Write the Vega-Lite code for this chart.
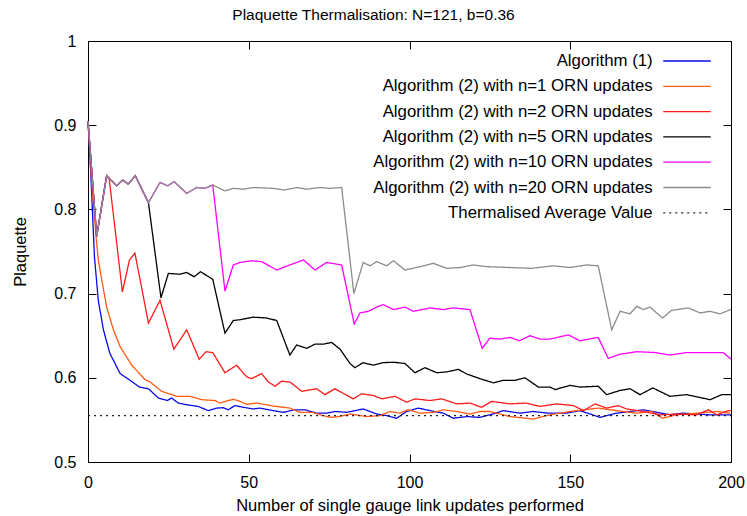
{
  "$schema": "https://vega.github.io/schema/vega-lite/v6.json",
  "width": 643,
  "height": 421,
  "autosize": {"type": "none"},
  "padding": {"left": 88, "top": 41, "right": 16, "bottom": 54},
  "title": {"text": "Plaquette Thermalisation: N=121, b=0.36", "fontSize": 15.5, "fontWeight": "normal", "font": "Liberation Sans", "color": "black", "offset": 10, "dx": -36},
  "config": {
    "view": {"stroke": "black", "strokeWidth": 1},
    "font": "Liberation Sans",
    "axis": {"domain": false, "grid": false, "labelFlush": false, "tickColor": "black", "tickSize": -8, "tickWidth": 1, "labelFont": "Liberation Sans", "labelFontSize": 16, "labelColor": "black", "titleFont": "Liberation Sans", "titleFontSize": 16.5, "titleFontWeight": "normal", "titleColor": "black"},
    "legend": {"orient": "none", "legendX": 588.5, "legendY": 9.5, "padding": 0, "labelFont": "Liberation Sans", "labelFontSize": 16.8, "labelColor": "black", "symbolType": "M-2.5,0H2.5", "symbolSize": 361, "symbolStrokeWidth": 1.3, "labelAlign": "right", "labelOffset": -44.8, "symbolOffset": 0, "rowPadding": 5.3, "labelLimit": 500}
  },
  "data": {"values": [
    {"s":"Algorithm (1)","x":0,"y":0.905},{"s":"Algorithm (1)","x":0.9,"y":0.84},{"s":"Algorithm (1)","x":2,"y":0.744},{"s":"Algorithm (1)","x":3.2,"y":0.692},{"s":"Algorithm (1)","x":4.8,"y":0.657},{"s":"Algorithm (1)","x":6.8,"y":0.629},{"s":"Algorithm (1)","x":10,"y":0.605},{"s":"Algorithm (1)","x":13.1,"y":0.597},{"s":"Algorithm (1)","x":16,"y":0.589},{"s":"Algorithm (1)","x":18.8,"y":0.587},{"s":"Algorithm (1)","x":21.9,"y":0.576},{"s":"Algorithm (1)","x":24.7,"y":0.573},{"s":"Algorithm (1)","x":26,"y":0.576},{"s":"Algorithm (1)","x":28.1,"y":0.570},{"s":"Algorithm (1)","x":30.7,"y":0.568},{"s":"Algorithm (1)","x":34.3,"y":0.566},{"s":"Algorithm (1)","x":37.4,"y":0.561},{"s":"Algorithm (1)","x":40,"y":0.564},{"s":"Algorithm (1)","x":42.1,"y":0.5645},{"s":"Algorithm (1)","x":43.6,"y":0.562},{"s":"Algorithm (1)","x":45.7,"y":0.567},{"s":"Algorithm (1)","x":48.3,"y":0.565},{"s":"Algorithm (1)","x":51.4,"y":0.563},{"s":"Algorithm (1)","x":53.5,"y":0.564},{"s":"Algorithm (1)","x":57.6,"y":0.561},{"s":"Algorithm (1)","x":60.8,"y":0.559},{"s":"Algorithm (1)","x":63.9,"y":0.562},{"s":"Algorithm (1)","x":67.5,"y":0.562},{"s":"Algorithm (1)","x":71.1,"y":0.558},{"s":"Algorithm (1)","x":74.2,"y":0.558},{"s":"Algorithm (1)","x":76.8,"y":0.560},{"s":"Algorithm (1)","x":80.5,"y":0.559},{"s":"Algorithm (1)","x":85.6,"y":0.563},{"s":"Algorithm (1)","x":89.8,"y":0.557},{"s":"Algorithm (1)","x":93,"y":0.555},{"s":"Algorithm (1)","x":96,"y":0.552},{"s":"Algorithm (1)","x":99.1,"y":0.560},{"s":"Algorithm (1)","x":102.8,"y":0.564},{"s":"Algorithm (1)","x":106.4,"y":0.561},{"s":"Algorithm (1)","x":110.5,"y":0.558},{"s":"Algorithm (1)","x":113.6,"y":0.552},{"s":"Algorithm (1)","x":117.8,"y":0.554},{"s":"Algorithm (1)","x":121.9,"y":0.553},{"s":"Algorithm (1)","x":125,"y":0.556},{"s":"Algorithm (1)","x":129.2,"y":0.561},{"s":"Algorithm (1)","x":134.4,"y":0.558},{"s":"Algorithm (1)","x":138.5,"y":0.560},{"s":"Algorithm (1)","x":143,"y":0.558},{"s":"Algorithm (1)","x":148.8,"y":0.558},{"s":"Algorithm (1)","x":153,"y":0.561},{"s":"Algorithm (1)","x":159.3,"y":0.553},{"s":"Algorithm (1)","x":164.4,"y":0.558},{"s":"Algorithm (1)","x":172.7,"y":0.562},{"s":"Algorithm (1)","x":176.9,"y":0.559},{"s":"Algorithm (1)","x":181,"y":0.556},{"s":"Algorithm (1)","x":185.2,"y":0.558},{"s":"Algorithm (1)","x":193.5,"y":0.556},{"s":"Algorithm (1)","x":200,"y":0.556},

    {"s":"Algorithm (2) with n=1 ORN updates","x":0,"y":0.905},{"s":"Algorithm (2) with n=1 ORN updates","x":1.2,"y":0.83},{"s":"Algorithm (2) with n=1 ORN updates","x":2.5,"y":0.768},{"s":"Algorithm (2) with n=1 ORN updates","x":3.2,"y":0.74},{"s":"Algorithm (2) with n=1 ORN updates","x":4.3,"y":0.716},{"s":"Algorithm (2) with n=1 ORN updates","x":5.8,"y":0.684},{"s":"Algorithm (2) with n=1 ORN updates","x":7.9,"y":0.657},{"s":"Algorithm (2) with n=1 ORN updates","x":10,"y":0.637},{"s":"Algorithm (2) with n=1 ORN updates","x":13.6,"y":0.615},{"s":"Algorithm (2) with n=1 ORN updates","x":17.7,"y":0.598},{"s":"Algorithm (2) with n=1 ORN updates","x":19.3,"y":0.595},{"s":"Algorithm (2) with n=1 ORN updates","x":22.9,"y":0.584},{"s":"Algorithm (2) with n=1 ORN updates","x":27.6,"y":0.578},{"s":"Algorithm (2) with n=1 ORN updates","x":31.7,"y":0.578},{"s":"Algorithm (2) with n=1 ORN updates","x":35.4,"y":0.574},{"s":"Algorithm (2) with n=1 ORN updates","x":39.5,"y":0.573},{"s":"Algorithm (2) with n=1 ORN updates","x":41.1,"y":0.570},{"s":"Algorithm (2) with n=1 ORN updates","x":43.1,"y":0.5725},{"s":"Algorithm (2) with n=1 ORN updates","x":45.2,"y":0.5745},{"s":"Algorithm (2) with n=1 ORN updates","x":47.3,"y":0.572},{"s":"Algorithm (2) with n=1 ORN updates","x":49.4,"y":0.5685},{"s":"Algorithm (2) with n=1 ORN updates","x":52.5,"y":0.570},{"s":"Algorithm (2) with n=1 ORN updates","x":57.6,"y":0.5665},{"s":"Algorithm (2) with n=1 ORN updates","x":62.8,"y":0.564},{"s":"Algorithm (2) with n=1 ORN updates","x":65.9,"y":0.559},{"s":"Algorithm (2) with n=1 ORN updates","x":69.6,"y":0.559},{"s":"Algorithm (2) with n=1 ORN updates","x":75.3,"y":0.553},{"s":"Algorithm (2) with n=1 ORN updates","x":78.4,"y":0.554},{"s":"Algorithm (2) with n=1 ORN updates","x":81.5,"y":0.557},{"s":"Algorithm (2) with n=1 ORN updates","x":86.7,"y":0.554},{"s":"Algorithm (2) with n=1 ORN updates","x":90.8,"y":0.555},{"s":"Algorithm (2) with n=1 ORN updates","x":93.9,"y":0.560},{"s":"Algorithm (2) with n=1 ORN updates","x":97,"y":0.558},{"s":"Algorithm (2) with n=1 ORN updates","x":99.6,"y":0.562},{"s":"Algorithm (2) with n=1 ORN updates","x":103.3,"y":0.558},{"s":"Algorithm (2) with n=1 ORN updates","x":107.4,"y":0.559},{"s":"Algorithm (2) with n=1 ORN updates","x":110.5,"y":0.562},{"s":"Algorithm (2) with n=1 ORN updates","x":114.7,"y":0.560},{"s":"Algorithm (2) with n=1 ORN updates","x":118.8,"y":0.557},{"s":"Algorithm (2) with n=1 ORN updates","x":121.9,"y":0.560},{"s":"Algorithm (2) with n=1 ORN updates","x":125,"y":0.560},{"s":"Algorithm (2) with n=1 ORN updates","x":131.3,"y":0.554},{"s":"Algorithm (2) with n=1 ORN updates","x":138.5,"y":0.551},{"s":"Algorithm (2) with n=1 ORN updates","x":143.7,"y":0.556},{"s":"Algorithm (2) with n=1 ORN updates","x":149.9,"y":0.560},{"s":"Algorithm (2) with n=1 ORN updates","x":158.7,"y":0.564},{"s":"Algorithm (2) with n=1 ORN updates","x":162.4,"y":0.562},{"s":"Algorithm (2) with n=1 ORN updates","x":170.7,"y":0.558},{"s":"Algorithm (2) with n=1 ORN updates","x":175.3,"y":0.560},{"s":"Algorithm (2) with n=1 ORN updates","x":178.7,"y":0.552},{"s":"Algorithm (2) with n=1 ORN updates","x":183,"y":0.556},{"s":"Algorithm (2) with n=1 ORN updates","x":189.3,"y":0.558},{"s":"Algorithm (2) with n=1 ORN updates","x":195.6,"y":0.560},{"s":"Algorithm (2) with n=1 ORN updates","x":199.7,"y":0.558},

    {"s":"Algorithm (2) with n=2 ORN updates","x":0,"y":0.905},{"s":"Algorithm (2) with n=2 ORN updates","x":2.7,"y":0.768},{"s":"Algorithm (2) with n=2 ORN updates","x":5.8,"y":0.840},{"s":"Algorithm (2) with n=2 ORN updates","x":6.6,"y":0.836},{"s":"Algorithm (2) with n=2 ORN updates","x":10.7,"y":0.702},{"s":"Algorithm (2) with n=2 ORN updates","x":12.9,"y":0.740},{"s":"Algorithm (2) with n=2 ORN updates","x":14.6,"y":0.748},{"s":"Algorithm (2) with n=2 ORN updates","x":18.8,"y":0.665},{"s":"Algorithm (2) with n=2 ORN updates","x":22.4,"y":0.692},{"s":"Algorithm (2) with n=2 ORN updates","x":26.7,"y":0.634},{"s":"Algorithm (2) with n=2 ORN updates","x":30.7,"y":0.657},{"s":"Algorithm (2) with n=2 ORN updates","x":34.6,"y":0.622},{"s":"Algorithm (2) with n=2 ORN updates","x":36.7,"y":0.631},{"s":"Algorithm (2) with n=2 ORN updates","x":38.8,"y":0.630},{"s":"Algorithm (2) with n=2 ORN updates","x":42.6,"y":0.606},{"s":"Algorithm (2) with n=2 ORN updates","x":46.2,"y":0.615},{"s":"Algorithm (2) with n=2 ORN updates","x":49.4,"y":0.601},{"s":"Algorithm (2) with n=2 ORN updates","x":50.9,"y":0.599},{"s":"Algorithm (2) with n=2 ORN updates","x":54,"y":0.605},{"s":"Algorithm (2) with n=2 ORN updates","x":56.1,"y":0.595},{"s":"Algorithm (2) with n=2 ORN updates","x":58.2,"y":0.590},{"s":"Algorithm (2) with n=2 ORN updates","x":60.2,"y":0.596},{"s":"Algorithm (2) with n=2 ORN updates","x":62.8,"y":0.595},{"s":"Algorithm (2) with n=2 ORN updates","x":66.5,"y":0.584},{"s":"Algorithm (2) with n=2 ORN updates","x":69.6,"y":0.586},{"s":"Algorithm (2) with n=2 ORN updates","x":71.1,"y":0.587},{"s":"Algorithm (2) with n=2 ORN updates","x":73.7,"y":0.580},{"s":"Algorithm (2) with n=2 ORN updates","x":76.8,"y":0.587},{"s":"Algorithm (2) with n=2 ORN updates","x":82.5,"y":0.575},{"s":"Algorithm (2) with n=2 ORN updates","x":85.1,"y":0.581},{"s":"Algorithm (2) with n=2 ORN updates","x":88.7,"y":0.579},{"s":"Algorithm (2) with n=2 ORN updates","x":91.4,"y":0.575},{"s":"Algorithm (2) with n=2 ORN updates","x":95.5,"y":0.578},{"s":"Algorithm (2) with n=2 ORN updates","x":99.1,"y":0.571},{"s":"Algorithm (2) with n=2 ORN updates","x":101.7,"y":0.575},{"s":"Algorithm (2) with n=2 ORN updates","x":106.4,"y":0.573},{"s":"Algorithm (2) with n=2 ORN updates","x":110,"y":0.575},{"s":"Algorithm (2) with n=2 ORN updates","x":114.7,"y":0.569},{"s":"Algorithm (2) with n=2 ORN updates","x":118.8,"y":0.570},{"s":"Algorithm (2) with n=2 ORN updates","x":122.4,"y":0.565},{"s":"Algorithm (2) with n=2 ORN updates","x":125.6,"y":0.572},{"s":"Algorithm (2) with n=2 ORN updates","x":131.3,"y":0.569},{"s":"Algorithm (2) with n=2 ORN updates","x":136.4,"y":0.570},{"s":"Algorithm (2) with n=2 ORN updates","x":140.6,"y":0.566},{"s":"Algorithm (2) with n=2 ORN updates","x":145.8,"y":0.569},{"s":"Algorithm (2) with n=2 ORN updates","x":151,"y":0.567},{"s":"Algorithm (2) with n=2 ORN updates","x":154.1,"y":0.561},{"s":"Algorithm (2) with n=2 ORN updates","x":157.7,"y":0.569},{"s":"Algorithm (2) with n=2 ORN updates","x":161.3,"y":0.564},{"s":"Algorithm (2) with n=2 ORN updates","x":164.9,"y":0.567},{"s":"Algorithm (2) with n=2 ORN updates","x":167.5,"y":0.563},{"s":"Algorithm (2) with n=2 ORN updates","x":172.7,"y":0.560},{"s":"Algorithm (2) with n=2 ORN updates","x":177.9,"y":0.556},{"s":"Algorithm (2) with n=2 ORN updates","x":183,"y":0.557},{"s":"Algorithm (2) with n=2 ORN updates","x":189.3,"y":0.556},{"s":"Algorithm (2) with n=2 ORN updates","x":193,"y":0.562},{"s":"Algorithm (2) with n=2 ORN updates","x":195.6,"y":0.556},{"s":"Algorithm (2) with n=2 ORN updates","x":199.2,"y":0.561},{"s":"Algorithm (2) with n=2 ORN updates","x":200,"y":0.561},

    {"s":"Algorithm (2) with n=5 ORN updates","x":0,"y":0.905},{"s":"Algorithm (2) with n=5 ORN updates","x":2.7,"y":0.768},{"s":"Algorithm (2) with n=5 ORN updates","x":5.8,"y":0.840},{"s":"Algorithm (2) with n=5 ORN updates","x":8.9,"y":0.828},{"s":"Algorithm (2) with n=5 ORN updates","x":10.8,"y":0.835},{"s":"Algorithm (2) with n=5 ORN updates","x":12.5,"y":0.830},{"s":"Algorithm (2) with n=5 ORN updates","x":14.7,"y":0.840},{"s":"Algorithm (2) with n=5 ORN updates","x":18.8,"y":0.808},{"s":"Algorithm (2) with n=5 ORN updates","x":22.7,"y":0.695},{"s":"Algorithm (2) with n=5 ORN updates","x":25,"y":0.724},{"s":"Algorithm (2) with n=5 ORN updates","x":28.6,"y":0.723},{"s":"Algorithm (2) with n=5 ORN updates","x":30.7,"y":0.725},{"s":"Algorithm (2) with n=5 ORN updates","x":33,"y":0.720},{"s":"Algorithm (2) with n=5 ORN updates","x":35,"y":0.726},{"s":"Algorithm (2) with n=5 ORN updates","x":38.8,"y":0.717},{"s":"Algorithm (2) with n=5 ORN updates","x":42.6,"y":0.653},{"s":"Algorithm (2) with n=5 ORN updates","x":45.2,"y":0.668},{"s":"Algorithm (2) with n=5 ORN updates","x":47.3,"y":0.669},{"s":"Algorithm (2) with n=5 ORN updates","x":51.4,"y":0.672},{"s":"Algorithm (2) with n=5 ORN updates","x":55.6,"y":0.671},{"s":"Algorithm (2) with n=5 ORN updates","x":58.7,"y":0.668},{"s":"Algorithm (2) with n=5 ORN updates","x":62.8,"y":0.627},{"s":"Algorithm (2) with n=5 ORN updates","x":64.9,"y":0.639},{"s":"Algorithm (2) with n=5 ORN updates","x":68,"y":0.635},{"s":"Algorithm (2) with n=5 ORN updates","x":70.6,"y":0.640},{"s":"Algorithm (2) with n=5 ORN updates","x":73.2,"y":0.640},{"s":"Algorithm (2) with n=5 ORN updates","x":75.8,"y":0.642},{"s":"Algorithm (2) with n=5 ORN updates","x":78.4,"y":0.634},{"s":"Algorithm (2) with n=5 ORN updates","x":81.5,"y":0.617},{"s":"Algorithm (2) with n=5 ORN updates","x":83,"y":0.612},{"s":"Algorithm (2) with n=5 ORN updates","x":85.6,"y":0.618},{"s":"Algorithm (2) with n=5 ORN updates","x":88.7,"y":0.615},{"s":"Algorithm (2) with n=5 ORN updates","x":91.8,"y":0.618},{"s":"Algorithm (2) with n=5 ORN updates","x":95,"y":0.6185},{"s":"Algorithm (2) with n=5 ORN updates","x":98.6,"y":0.617},{"s":"Algorithm (2) with n=5 ORN updates","x":101.7,"y":0.606},{"s":"Algorithm (2) with n=5 ORN updates","x":104.8,"y":0.612},{"s":"Algorithm (2) with n=5 ORN updates","x":108.5,"y":0.606},{"s":"Algorithm (2) with n=5 ORN updates","x":111.6,"y":0.607},{"s":"Algorithm (2) with n=5 ORN updates","x":115.2,"y":0.610},{"s":"Algorithm (2) with n=5 ORN updates","x":117.8,"y":0.6045},{"s":"Algorithm (2) with n=5 ORN updates","x":121.9,"y":0.599},{"s":"Algorithm (2) with n=5 ORN updates","x":126.1,"y":0.594},{"s":"Algorithm (2) with n=5 ORN updates","x":129.2,"y":0.597},{"s":"Algorithm (2) with n=5 ORN updates","x":132.8,"y":0.597},{"s":"Algorithm (2) with n=5 ORN updates","x":135.9,"y":0.600},{"s":"Algorithm (2) with n=5 ORN updates","x":140.1,"y":0.589},{"s":"Algorithm (2) with n=5 ORN updates","x":143.7,"y":0.589},{"s":"Algorithm (2) with n=5 ORN updates","x":145.3,"y":0.586},{"s":"Algorithm (2) with n=5 ORN updates","x":149.9,"y":0.591},{"s":"Algorithm (2) with n=5 ORN updates","x":153,"y":0.589},{"s":"Algorithm (2) with n=5 ORN updates","x":158.7,"y":0.590},{"s":"Algorithm (2) with n=5 ORN updates","x":161.3,"y":0.580},{"s":"Algorithm (2) with n=5 ORN updates","x":165.5,"y":0.585},{"s":"Algorithm (2) with n=5 ORN updates","x":168.6,"y":0.587},{"s":"Algorithm (2) with n=5 ORN updates","x":171.7,"y":0.580},{"s":"Algorithm (2) with n=5 ORN updates","x":175.7,"y":0.588},{"s":"Algorithm (2) with n=5 ORN updates","x":181,"y":0.578},{"s":"Algorithm (2) with n=5 ORN updates","x":186.2,"y":0.580},{"s":"Algorithm (2) with n=5 ORN updates","x":193.5,"y":0.574},{"s":"Algorithm (2) with n=5 ORN updates","x":197.1,"y":0.580},{"s":"Algorithm (2) with n=5 ORN updates","x":200,"y":0.580},

    {"s":"Algorithm (2) with n=10 ORN updates","x":0,"y":0.905},{"s":"Algorithm (2) with n=10 ORN updates","x":2.7,"y":0.768},{"s":"Algorithm (2) with n=10 ORN updates","x":5.8,"y":0.840},{"s":"Algorithm (2) with n=10 ORN updates","x":8.9,"y":0.828},{"s":"Algorithm (2) with n=10 ORN updates","x":10.8,"y":0.835},{"s":"Algorithm (2) with n=10 ORN updates","x":12.5,"y":0.830},{"s":"Algorithm (2) with n=10 ORN updates","x":14.7,"y":0.840},{"s":"Algorithm (2) with n=10 ORN updates","x":18.8,"y":0.808},{"s":"Algorithm (2) with n=10 ORN updates","x":22.4,"y":0.832},{"s":"Algorithm (2) with n=10 ORN updates","x":24.8,"y":0.828},{"s":"Algorithm (2) with n=10 ORN updates","x":26.8,"y":0.833},{"s":"Algorithm (2) with n=10 ORN updates","x":30.7,"y":0.819},{"s":"Algorithm (2) with n=10 ORN updates","x":33.8,"y":0.826},{"s":"Algorithm (2) with n=10 ORN updates","x":36.4,"y":0.825},{"s":"Algorithm (2) with n=10 ORN updates","x":38.8,"y":0.829},{"s":"Algorithm (2) with n=10 ORN updates","x":42.6,"y":0.703},{"s":"Algorithm (2) with n=10 ORN updates","x":45.2,"y":0.734},{"s":"Algorithm (2) with n=10 ORN updates","x":47.3,"y":0.737},{"s":"Algorithm (2) with n=10 ORN updates","x":50.9,"y":0.739},{"s":"Algorithm (2) with n=10 ORN updates","x":54,"y":0.738},{"s":"Algorithm (2) with n=10 ORN updates","x":58.7,"y":0.728},{"s":"Algorithm (2) with n=10 ORN updates","x":62.8,"y":0.734},{"s":"Algorithm (2) with n=10 ORN updates","x":67,"y":0.740},{"s":"Algorithm (2) with n=10 ORN updates","x":70.6,"y":0.728},{"s":"Algorithm (2) with n=10 ORN updates","x":74.2,"y":0.737},{"s":"Algorithm (2) with n=10 ORN updates","x":78.9,"y":0.734},{"s":"Algorithm (2) with n=10 ORN updates","x":82.8,"y":0.664},{"s":"Algorithm (2) with n=10 ORN updates","x":84.6,"y":0.677},{"s":"Algorithm (2) with n=10 ORN updates","x":87.2,"y":0.679},{"s":"Algorithm (2) with n=10 ORN updates","x":89.8,"y":0.684},{"s":"Algorithm (2) with n=10 ORN updates","x":91.8,"y":0.687},{"s":"Algorithm (2) with n=10 ORN updates","x":95,"y":0.681},{"s":"Algorithm (2) with n=10 ORN updates","x":98.6,"y":0.684},{"s":"Algorithm (2) with n=10 ORN updates","x":101.2,"y":0.679},{"s":"Algorithm (2) with n=10 ORN updates","x":106.4,"y":0.683},{"s":"Algorithm (2) with n=10 ORN updates","x":110.5,"y":0.681},{"s":"Algorithm (2) with n=10 ORN updates","x":113.6,"y":0.683},{"s":"Algorithm (2) with n=10 ORN updates","x":118.8,"y":0.681},{"s":"Algorithm (2) with n=10 ORN updates","x":122.6,"y":0.635},{"s":"Algorithm (2) with n=10 ORN updates","x":125,"y":0.647},{"s":"Algorithm (2) with n=10 ORN updates","x":128.1,"y":0.646},{"s":"Algorithm (2) with n=10 ORN updates","x":131.3,"y":0.648},{"s":"Algorithm (2) with n=10 ORN updates","x":134.2,"y":0.644},{"s":"Algorithm (2) with n=10 ORN updates","x":137.5,"y":0.650},{"s":"Algorithm (2) with n=10 ORN updates","x":140.6,"y":0.646},{"s":"Algorithm (2) with n=10 ORN updates","x":143.7,"y":0.646},{"s":"Algorithm (2) with n=10 ORN updates","x":149.4,"y":0.651},{"s":"Algorithm (2) with n=10 ORN updates","x":153,"y":0.644},{"s":"Algorithm (2) with n=10 ORN updates","x":158.7,"y":0.648},{"s":"Algorithm (2) with n=10 ORN updates","x":161.8,"y":0.623},{"s":"Algorithm (2) with n=10 ORN updates","x":165.5,"y":0.628},{"s":"Algorithm (2) with n=10 ORN updates","x":170.7,"y":0.631},{"s":"Algorithm (2) with n=10 ORN updates","x":176.4,"y":0.630},{"s":"Algorithm (2) with n=10 ORN updates","x":181,"y":0.627},{"s":"Algorithm (2) with n=10 ORN updates","x":186.2,"y":0.630},{"s":"Algorithm (2) with n=10 ORN updates","x":193.5,"y":0.630},{"s":"Algorithm (2) with n=10 ORN updates","x":197.6,"y":0.630},{"s":"Algorithm (2) with n=10 ORN updates","x":200,"y":0.622},

    {"s":"Algorithm (2) with n=20 ORN updates","x":0,"y":0.905},{"s":"Algorithm (2) with n=20 ORN updates","x":2.7,"y":0.768},{"s":"Algorithm (2) with n=20 ORN updates","x":5.8,"y":0.840},{"s":"Algorithm (2) with n=20 ORN updates","x":8.9,"y":0.828},{"s":"Algorithm (2) with n=20 ORN updates","x":10.8,"y":0.835},{"s":"Algorithm (2) with n=20 ORN updates","x":12.5,"y":0.830},{"s":"Algorithm (2) with n=20 ORN updates","x":14.7,"y":0.840},{"s":"Algorithm (2) with n=20 ORN updates","x":18.8,"y":0.808},{"s":"Algorithm (2) with n=20 ORN updates","x":22.4,"y":0.832},{"s":"Algorithm (2) with n=20 ORN updates","x":24.8,"y":0.828},{"s":"Algorithm (2) with n=20 ORN updates","x":26.8,"y":0.833},{"s":"Algorithm (2) with n=20 ORN updates","x":30.7,"y":0.819},{"s":"Algorithm (2) with n=20 ORN updates","x":33.8,"y":0.826},{"s":"Algorithm (2) with n=20 ORN updates","x":36.4,"y":0.825},{"s":"Algorithm (2) with n=20 ORN updates","x":38.8,"y":0.829},{"s":"Algorithm (2) with n=20 ORN updates","x":42.6,"y":0.822},{"s":"Algorithm (2) with n=20 ORN updates","x":45.2,"y":0.825},{"s":"Algorithm (2) with n=20 ORN updates","x":48.3,"y":0.824},{"s":"Algorithm (2) with n=20 ORN updates","x":51.4,"y":0.826},{"s":"Algorithm (2) with n=20 ORN updates","x":57.6,"y":0.825},{"s":"Algorithm (2) with n=20 ORN updates","x":61,"y":0.823},{"s":"Algorithm (2) with n=20 ORN updates","x":65,"y":0.826},{"s":"Algorithm (2) with n=20 ORN updates","x":68,"y":0.824},{"s":"Algorithm (2) with n=20 ORN updates","x":72.2,"y":0.826},{"s":"Algorithm (2) with n=20 ORN updates","x":75,"y":0.825},{"s":"Algorithm (2) with n=20 ORN updates","x":78.9,"y":0.826},{"s":"Algorithm (2) with n=20 ORN updates","x":82.7,"y":0.700},{"s":"Algorithm (2) with n=20 ORN updates","x":85.6,"y":0.737},{"s":"Algorithm (2) with n=20 ORN updates","x":87.7,"y":0.733},{"s":"Algorithm (2) with n=20 ORN updates","x":89.8,"y":0.738},{"s":"Algorithm (2) with n=20 ORN updates","x":92.9,"y":0.733},{"s":"Algorithm (2) with n=20 ORN updates","x":95,"y":0.739},{"s":"Algorithm (2) with n=20 ORN updates","x":98.6,"y":0.728},{"s":"Algorithm (2) with n=20 ORN updates","x":103.3,"y":0.732},{"s":"Algorithm (2) with n=20 ORN updates","x":107.4,"y":0.736},{"s":"Algorithm (2) with n=20 ORN updates","x":111.6,"y":0.730},{"s":"Algorithm (2) with n=20 ORN updates","x":115.8,"y":0.731},{"s":"Algorithm (2) with n=20 ORN updates","x":119.8,"y":0.734},{"s":"Algorithm (2) with n=20 ORN updates","x":124,"y":0.732},{"s":"Algorithm (2) with n=20 ORN updates","x":138,"y":0.730},{"s":"Algorithm (2) with n=20 ORN updates","x":144.7,"y":0.733},{"s":"Algorithm (2) with n=20 ORN updates","x":149.9,"y":0.731},{"s":"Algorithm (2) with n=20 ORN updates","x":155.1,"y":0.734},{"s":"Algorithm (2) with n=20 ORN updates","x":158.7,"y":0.733},{"s":"Algorithm (2) with n=20 ORN updates","x":162.9,"y":0.657},{"s":"Algorithm (2) with n=20 ORN updates","x":165.5,"y":0.679},{"s":"Algorithm (2) with n=20 ORN updates","x":168.6,"y":0.676},{"s":"Algorithm (2) with n=20 ORN updates","x":170.7,"y":0.685},{"s":"Algorithm (2) with n=20 ORN updates","x":172.7,"y":0.681},{"s":"Algorithm (2) with n=20 ORN updates","x":174.8,"y":0.684},{"s":"Algorithm (2) with n=20 ORN updates","x":178.7,"y":0.671},{"s":"Algorithm (2) with n=20 ORN updates","x":181.5,"y":0.680},{"s":"Algorithm (2) with n=20 ORN updates","x":186.7,"y":0.683},{"s":"Algorithm (2) with n=20 ORN updates","x":190.4,"y":0.677},{"s":"Algorithm (2) with n=20 ORN updates","x":193.5,"y":0.679},{"s":"Algorithm (2) with n=20 ORN updates","x":196.6,"y":0.676},{"s":"Algorithm (2) with n=20 ORN updates","x":199.2,"y":0.680},{"s":"Algorithm (2) with n=20 ORN updates","x":200,"y":0.681},

    {"s":"Thermalised Average Value","x":0,"y":0.555},{"s":"Thermalised Average Value","x":200,"y":0.555}
  ]},
  "layer": [
    {
      "mark": {"type": "line", "strokeWidth": 1.3},
      "encoding": {
        "x": {"field": "x", "type": "quantitative", "scale": {"domain": [0, 200], "nice": false}, "axis": {"orient": "bottom", "values": [0, 50, 100, 150, 200], "title": "Number of single gauge link updates performed", "labelPadding": 20.5, "titlePadding": 6.5}},
        "y": {"field": "y", "type": "quantitative", "scale": {"domain": [0.5, 1], "nice": false, "zero": false}, "axis": {"orient": "left", "values": [0.5, 0.6, 0.7, 0.8, 0.9, 1], "format": ".1~f", "title": "Plaquette", "labelPadding": 20, "titlePadding": 25}},
        "color": {"field": "s", "type": "nominal", "title": null,
          "scale": {"domain": ["Algorithm (1)", "Algorithm (2) with n=1 ORN updates", "Algorithm (2) with n=2 ORN updates", "Algorithm (2) with n=5 ORN updates", "Algorithm (2) with n=10 ORN updates", "Algorithm (2) with n=20 ORN updates", "Thermalised Average Value"],
                    "range": ["#0a0ae6", "#ff5a14", "#ff1a1a", "#000000", "#ff00ff", "#8c8c8c", "#202020"]}},
        "strokeDash": {"field": "s", "type": "nominal", "title": null,
          "scale": {"domain": ["Algorithm (1)", "Algorithm (2) with n=1 ORN updates", "Algorithm (2) with n=2 ORN updates", "Algorithm (2) with n=5 ORN updates", "Algorithm (2) with n=10 ORN updates", "Algorithm (2) with n=20 ORN updates", "Thermalised Average Value"],
                    "range": [[1, 0], [1, 0], [1, 0], [1, 0], [1, 0], [1, 0], [2, 4]]}}
      }
    },
    {
      "mark": {"type": "line", "opacity": 0},
      "encoding": {
        "x": {"field": "x", "type": "quantitative", "axis": {"orient": "top", "values": [0, 50, 100, 150, 200], "labels": false, "title": null}},
        "y": {"field": "y", "type": "quantitative", "axis": {"orient": "right", "values": [0.5, 0.6, 0.7, 0.8, 0.9, 1], "labels": false, "title": null}}
      }
    }
  ]
}
